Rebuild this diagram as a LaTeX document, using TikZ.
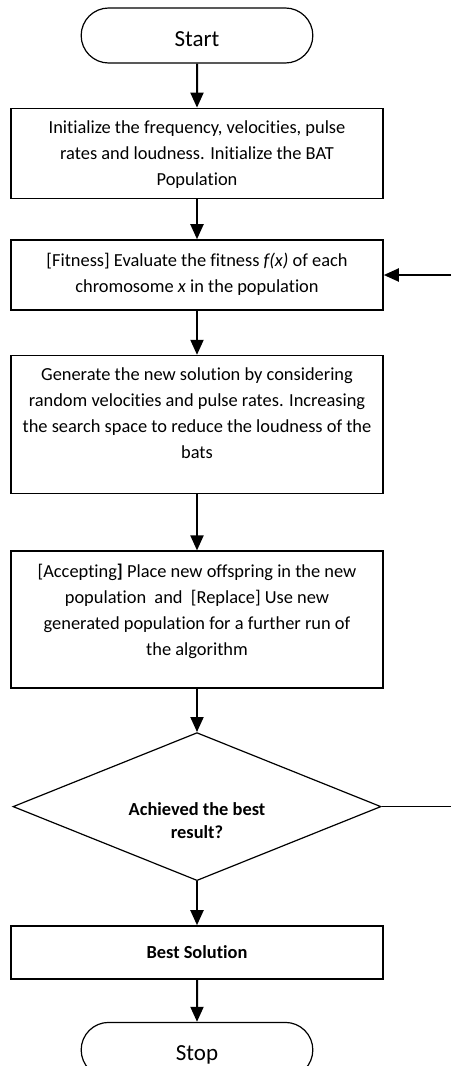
\documentclass[tikz,border=0pt]{standalone}
\usepackage{fontspec}
\setmainfont{Carlito}[Ligatures=NoCommon]
\usetikzlibrary{arrows.meta, positioning, shapes.geometric, shapes.misc}

\begin{document}
\begin{tikzpicture}[
    node distance=22pt,
    term/.style={rounded rectangle, draw, line width=0.6pt, minimum width=122.5pt, minimum height=27.5pt, text height=11pt, text depth=0pt, font=\fontsize{11.5}{14}\selectfont},
    box/.style={rectangle, draw, line width=0.8pt, minimum width=186pt, inner sep=0pt},
    txt/.style={align=center, inner sep=0pt, font=\fontsize{9.2}{13}\selectfont},
    decision/.style={diamond, draw, line width=0.6pt, minimum width=184pt, minimum height=74pt, inner sep=0pt},
    arrow/.style={line width=1pt, -{Triangle[width=6.5pt,length=7.5pt]}}
]
\useasboundingbox (0,0) rectangle (225.5pt,-533pt);
% Nodes
\node[term] (start) at (98.5pt,-17.75pt) {Start};
\node[box, minimum height=45pt, below=of start] (init) {};
\node[box, minimum height=35pt, below=20pt of init] (fit) {};
\node[box, minimum height=69pt, below=of fit] (gen) {};
\node[box, minimum height=68.5pt, below=28pt of gen] (acc) {};
\node[decision, below=21.5pt of acc] (dec) {};
\node[box, minimum height=26.5pt, below=of dec, font=\bfseries\fontsize{9.2}{11}\selectfont] (best) {Best Solution};
\node[term, below=21pt of best] (stop) {Stop};
% Texts inside the boxes
\node[txt, below=6.5pt of init.north] (inittext) {Initialize the frequency, velocities, pulse\\rates and loudness. Initialize the BAT\\Population};
\node[txt, below=6.5pt of fit.north] (fittext) {[Fitness] Evaluate the fitness \textit{f(x)} of each\\chromosome \textit{x} in the population};
\node[txt, below=6.5pt of gen.north] (gentext) {Generate the new solution by considering\\random velocities and pulse rates. Increasing\\the search space to reduce the loudness of the\\bats};
\node[txt, below=6.5pt of acc.north] (acctext) {[Accepting\textbf{]} Place new offspring in the new\\population\ \ and\ \ [Replace] Use new\\generated population for a further run of\\the algorithm};
\node[txt, font=\bfseries\fontsize{9.2}{11.5}\selectfont] (dectext) at ([yshift=-7pt]dec.center) {Achieved the best\\result?};
% Arrows
\draw[arrow] (start) -- (init);
\draw[arrow] (init) -- (fit);
\draw[arrow] (fit) -- (gen);
\draw[arrow] (gen) -- (acc);
\draw[arrow] (acc) -- (dec);
\draw[arrow] (dec) -- (best);
\draw[arrow] (best) -- (stop);
% Loop back (cut at the right edge)
\coordinate (edge) at (225.5pt,0);
\draw[line width=0.6pt] (dec.east) -- (dec.east -| edge);
\draw[arrow] (fit.east -| edge) -- (fit.east);
\end{tikzpicture}
\end{document}
